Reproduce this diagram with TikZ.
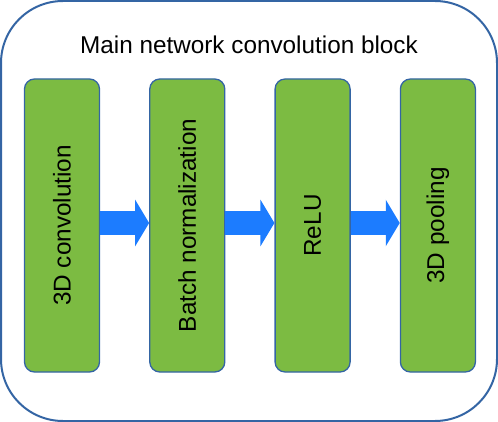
\documentclass[tikz,border=0pt]{standalone}
\usepackage{fontspec}
\usepackage{graphicx}
\setmainfont{Liberation Sans}
\usetikzlibrary{arrows.meta,positioning}
\definecolor{leaf}{HTML}{7CBB42}
\definecolor{rim}{HTML}{3465A4}
\definecolor{flowblue}{HTML}{1C7CFF}

\begin{document}
\begin{tikzpicture}[x=1pt,y=-1pt,
  every node/.style={font=\fontsize{24.3}{29}\selectfont},
  n/.style={draw=rim,fill=leaf,line width=1.3pt,rounded corners=10pt,minimum width=75pt,minimum height=293pt,inner sep=0pt},
  f/.style={draw=flowblue,line width=23.5pt,-{Triangle[length=14pt,width=46pt]}}]
  \useasboundingbox (0,0) rectangle (498,422);
  \draw[rim,line width=2pt,rounded corners=62pt] (1,1) rectangle (497,421);
  \node[anchor=base] (title) at (249,54) {Main network convolution block};
  % four stages
  \node[n] (conv) at (62,225.5) {\rotatebox{90}{3D convolution}};
  \node[n,right=49pt of conv] (bn) {\rotatebox{90}{Batch normalization}};
  \node[n,right=49pt of bn] (relu) {\rotatebox{90}{ReLU}};
  \node[n,right=49pt of relu] (pool) {\rotatebox{90}{3D pooling}};
  % flow
  \draw[f] ([yshift=2.5pt]conv.east) -- ([yshift=2.5pt]bn.west);
  \draw[f] ([yshift=2.5pt]bn.east) -- ([yshift=2.5pt]relu.west);
  \draw[f] ([yshift=2.5pt]relu.east) -- ([yshift=2.5pt]pool.west);
\end{tikzpicture}
\end{document}
